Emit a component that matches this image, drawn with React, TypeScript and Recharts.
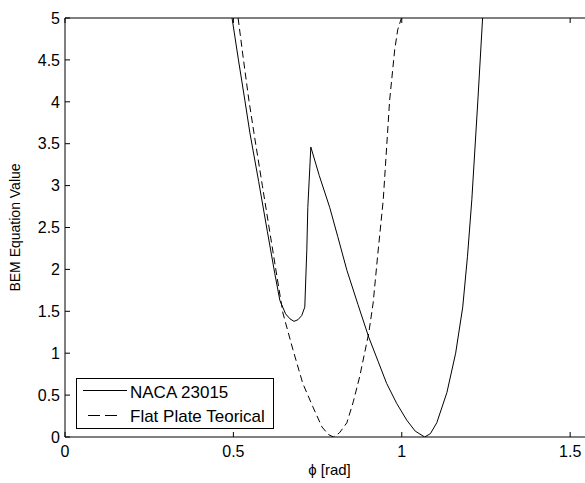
import React from 'react';
import { LineChart, Line, XAxis, YAxis, Legend } from 'recharts';

// NACA 23015 curve (solid)
const nacaPhi = [
  0.496, 0.515, 0.534, 0.549, 0.575, 0.601, 0.623, 0.638, 0.655, 0.668, 0.68, 0.692, 0.703,
  0.712, 0.718, 0.721, 0.727, 0.73, 0.755, 0.786, 0.81, 0.837, 0.87, 0.902, 0.93, 0.955,
  0.985, 1.015, 1.04, 1.068, 1.085, 1.104, 1.134, 1.16, 1.181, 1.195, 1.208, 1.226, 1.24,
];
const nacaValue = [
  5, 4.5, 4.02, 3.63, 3.05, 2.45, 1.95, 1.63, 1.47, 1.41, 1.38, 1.4, 1.45,
  1.55, 2.23, 2.74, 3.22, 3.46, 3.12, 2.74, 2.39, 1.99, 1.58, 1.19, 0.9, 0.64,
  0.4, 0.2, 0.07, 0, 0.04, 0.17, 0.53, 1.0, 1.55, 2.15, 2.83, 4.02, 5,
];

// Flat plate theoretical curve (dashed)
const flatPhi = [
  0.514, 0.53, 0.546, 0.561, 0.586, 0.61, 0.63, 0.647, 0.677, 0.706, 0.736, 0.763, 0.782,
  0.797, 0.815, 0.837, 0.856, 0.875, 0.902, 0.915, 0.929, 0.945, 0.964, 0.979, 0.988, 0.999,
];
const flatValue = [
  5, 4.5, 4.02, 3.63, 3.0, 2.4, 1.9, 1.48, 1.04, 0.64, 0.36, 0.12, 0.03,
  0, 0.05, 0.17, 0.42, 0.72, 1.24, 1.6, 2.19, 2.83, 4.02, 4.62, 4.86, 5,
];

const xTicks = [0, 0.5, 1, 1.5];
const yTicks = [0, 0.5, 1, 1.5, 2, 2.5, 3, 3.5, 4, 4.5, 5];

const nacaData = nacaPhi.map((phi, i) => ({ phi, value: nacaValue[i] }));
const flatData = flatPhi.map((phi, i) => ({ phi, value: flatValue[i] }));

const FONT = '"Liberation Sans", Arial, Helvetica, sans-serif';
const X_DOMAIN = [0, Math.PI / 2];

const BottomTick = (props: any) => {
  const { x, y, payload } = props;
  return (
    <g>
      <line x1={x} y1={y} x2={x} y2={y - 5} stroke="#000" />
      <text x={x} y={y + 20} textAnchor="middle" fontFamily={FONT} fontSize={16} fill="#000">
        {payload.value}
      </text>
    </g>
  );
};

const TopTick = (props: any) => {
  const { x, y } = props;
  return <line x1={x} y1={y} x2={x} y2={y + 5} stroke="#000" />;
};

const LeftTick = (props: any) => {
  const { x, y, payload } = props;
  return (
    <g>
      <line x1={x} y1={y} x2={x + 5} y2={y} stroke="#000" />
      <text x={x - 5} y={y} dy="0.36em" textAnchor="end" fontFamily={FONT} fontSize={16} fill="#000">
        {payload.value}
      </text>
    </g>
  );
};

const RightTick = (props: any) => {
  const { x, y } = props;
  return <line x1={x} y1={y} x2={x - 5} y2={y} stroke="#000" />;
};

const YLabel = (props: any) => {
  const { viewBox } = props;
  const cx = viewBox.x + 14.5;
  const cy = viewBox.y + viewBox.height / 2;
  return (
    <text
      x={cx}
      y={cy}
      transform={`rotate(-90, ${cx}, ${cy})`}
      textAnchor="middle"
      dominantBaseline="central"
      fontFamily={FONT}
      fontSize={14}
      fill="#000"
    >
      BEM Equation Value
    </text>
  );
};

const XLabel = (props: any) => {
  const { viewBox } = props;
  return (
    <text
      x={viewBox.x + viewBox.width / 2}
      y={viewBox.y + 38}
      textAnchor="middle"
      fontFamily={FONT}
      fontSize={15}
      fill="#000"
    >
      ϕ [rad]
    </text>
  );
};

const renderLegend = () => (
  <svg width={198} height={51} style={{ display: 'block' }}>
    <rect x={0.5} y={0.5} width={197} height={50} fill="#fff" stroke="#000" />
    <line x1={7} y1={12.5} x2={51} y2={12.5} stroke="#000" />
    <text x={54} y={20} fontFamily={FONT} fontSize={17} fill="#000">
      NACA 23015
    </text>
    <line x1={12} y1={37.5} x2={46} y2={37.5} stroke="#000" strokeDasharray="12 5" />
    <text x={54} y={43.5} fontFamily={FONT} fontSize={17} fill="#000">
      Flat Plate Teorical
    </text>
  </svg>
);

export default function App() {
  return (
    <div
      style={{
        position: 'fixed',
        left: 0,
        top: 0,
        width: 585,
        height: 483,
        overflow: 'hidden',
        background: '#fff',
      }}
    >
      <LineChart width={630} height={483} margin={{ top: 8, right: 0, bottom: 0, left: 0 }}>
        <XAxis
          xAxisId="bottom"
          dataKey="phi"
          type="number"
          domain={X_DOMAIN}
          ticks={xTicks}
          allowDataOverflow
          height={46}
          tickSize={0}
          tickMargin={0}
          tickLine={false}
          axisLine={{ stroke: '#000' }}
          tick={BottomTick}
          interval={0}
          label={<XLabel />}
        />
        <XAxis
          xAxisId="top"
          orientation="top"
          dataKey="phi"
          type="number"
          domain={X_DOMAIN}
          ticks={xTicks}
          allowDataOverflow
          height={10}
          tickSize={0}
          tickMargin={0}
          tickLine={false}
          axisLine={{ stroke: '#000' }}
          tick={TopTick}
          interval={0}
        />
        <YAxis
          yAxisId="left"
          type="number"
          domain={[0, 5]}
          ticks={yTicks}
          allowDataOverflow
          width={65}
          tickSize={0}
          tickMargin={0}
          tickLine={false}
          axisLine={{ stroke: '#000' }}
          tick={LeftTick}
          interval={0}
          label={<YLabel />}
        />
        <YAxis
          yAxisId="right"
          orientation="right"
          type="number"
          domain={[0, 5]}
          ticks={yTicks}
          allowDataOverflow
          width={36}
          tickSize={0}
          tickMargin={0}
          tickLine={false}
          axisLine={{ stroke: '#000' }}
          tick={RightTick}
          interval={0}
        />
        <Legend
          layout="horizontal"
          verticalAlign="middle"
          align="center"
          content={renderLegend}
          wrapperStyle={{ left: 76, top: 378, width: 198, height: 51 }}
        />
        <Line
          xAxisId="bottom"
          yAxisId="left"
          data={nacaData}
          dataKey="value"
          name="NACA 23015"
          type="linear"
          stroke="#000"
          strokeWidth={1}
          dot={false}
          isAnimationActive={false}
        />
        <Line
          xAxisId="bottom"
          yAxisId="left"
          data={flatData}
          dataKey="value"
          name="Flat Plate Teorical"
          type="linear"
          stroke="#000"
          strokeWidth={1}
          strokeDasharray="7 4"
          dot={false}
          isAnimationActive={false}
        />
      </LineChart>
    </div>
  );
}
